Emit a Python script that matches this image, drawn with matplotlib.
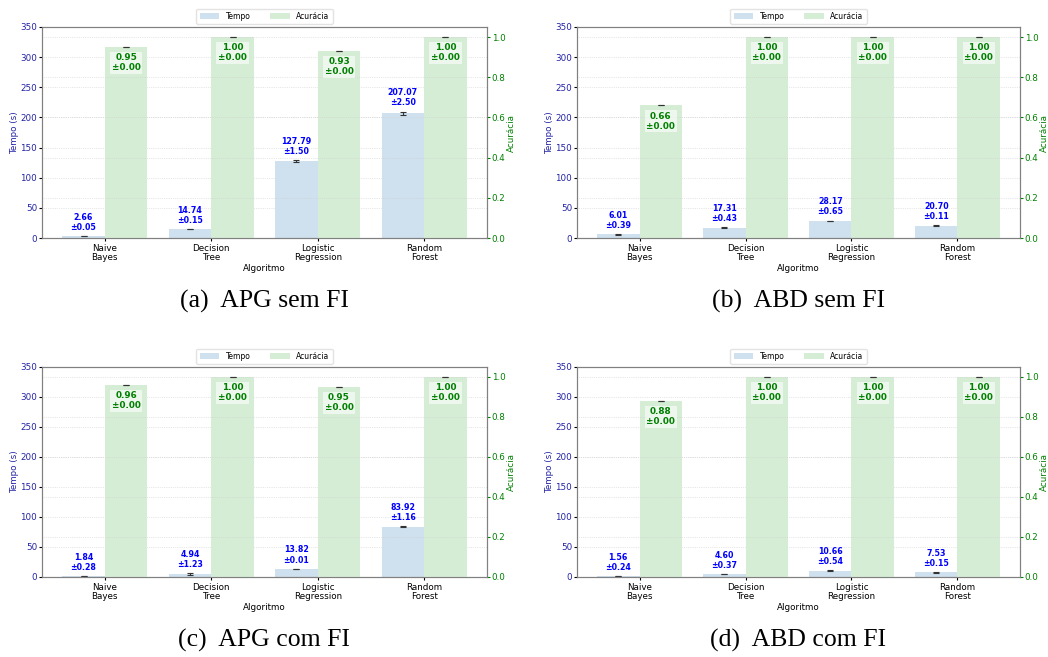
import numpy as np
import matplotlib
matplotlib.use("Agg")
import matplotlib.pyplot as plt

# algorithm names (tick labels)
algoritmos = ["Naive\nBayes", "Decision\nTree", "Logistic\nRegression", "Random\nForest"]

# (a) APG sem FI
tempo_a = [2.66, 14.74, 127.79, 207.07]
tempo_a_err = [0.05, 0.15, 1.50, 2.50]
acc_a = [0.95, 1.00, 0.93, 1.00]
acc_a_err = [0.00, 0.00, 0.00, 0.00]

# (b) ABD sem FI
tempo_b = [6.01, 17.31, 28.17, 20.70]
tempo_b_err = [0.39, 0.43, 0.65, 0.11]
acc_b = [0.66, 1.00, 1.00, 1.00]
acc_b_err = [0.00, 0.00, 0.00, 0.00]

# (c) APG com FI
tempo_c = [1.84, 4.94, 13.82, 83.92]
tempo_c_err = [0.28, 1.23, 0.01, 1.16]
acc_c = [0.96, 1.00, 0.95, 1.00]
acc_c_err = [0.00, 0.00, 0.00, 0.00]

# (d) ABD com FI
tempo_d = [1.56, 4.60, 10.66, 7.53]
tempo_d_err = [0.24, 0.37, 0.54, 0.15]
acc_d = [0.88, 1.00, 1.00, 1.00]
acc_d_err = [0.00, 0.00, 0.00, 0.00]

legendas = ["(a)  APG sem FI", "(b)  ABD sem FI", "(c)  APG com FI", "(d)  ABD com FI"]

paineis = [
    (tempo_a, tempo_a_err, acc_a, acc_a_err),
    (tempo_b, tempo_b_err, acc_b, acc_b_err),
    (tempo_c, tempo_c_err, acc_c, acc_c_err),
    (tempo_d, tempo_d_err, acc_d, acc_d_err),
]

W, H = 1048, 657
fig = plt.figure(figsize=(W / 100, H / 100), dpi=100)

# axes boxes in pixels: left, top, right, bottom
caixas = [(42, 27, 487, 238), (577, 27, 1020, 238),
          (42, 367, 487, 577), (577, 367, 1020, 577)]
caption_y = [301, 640]

cor_tempo = "#cfe0ee"
cor_acc = "#d5ecd5"
azul_tick = "#2323a6"
verde = "green"
w = 0.4
x = np.arange(len(algoritmos))
fs = 6.3

for i, (tempo, tempo_err, acc, acc_err) in enumerate(paineis):
    l, t, r, b = caixas[i]
    ax = fig.add_axes([l / W, (H - b) / H, (r - l) / W, (b - t) / H])
    ax2 = ax.twinx()

    b1 = ax.bar(x - w / 2, tempo, w, yerr=tempo_err, color=cor_tempo, label="Tempo",
                error_kw=dict(ecolor="#333333", capsize=2.5, elinewidth=0.8, capthick=0.8))
    b2 = ax2.bar(x + w / 2, acc, w, yerr=acc_err, color=cor_acc, label="Acurácia",
                 error_kw=dict(ecolor="#333333", capsize=2.5, elinewidth=0.8, capthick=0.8))

    for xi, v, e in zip(x, tempo, tempo_err):
        ax.annotate(f"{v:.2f}\n±{e:.2f}", (xi - w / 2, v + e), xytext=(0, 3),
                    textcoords="offset points", ha="center", va="bottom",
                    color="blue", fontsize=5.7, fontweight="bold", linespacing=1.15)
    for xi, v, e in zip(x, acc, acc_err):
        ax2.annotate(f"{v:.2f}\n±{e:.2f}", (xi + w / 2, v), xytext=(0, -4.5),
                     textcoords="offset points", ha="center", va="top",
                     color=verde, fontsize=6.4, fontweight="bold", linespacing=1.15,
                     bbox=dict(facecolor="white", alpha=0.6, edgecolor="none", pad=1.2))

    ax.set_ylim(0, 350)
    ax.set_yticks(np.arange(0, 351, 50))
    ax2.set_ylim(0, 1.05)
    ax2.set_yticks(np.arange(0, 1.01, 0.2))
    ax.set_xticks(x)
    ax.set_xticklabels(algoritmos, fontsize=fs, linespacing=1.1)
    ax.set_xlabel("Algoritmo", fontsize=fs, labelpad=1)
    ax.set_ylabel("Tempo (s)", fontsize=fs, color=azul_tick, labelpad=1)
    ax2.set_ylabel("Acurácia", fontsize=fs, color=verde, labelpad=1)
    ax.tick_params(axis="y", labelsize=fs, labelcolor=azul_tick, length=2.5, pad=1)
    ax.tick_params(axis="x", labelsize=fs, length=2.5, pad=1.5)
    ax2.tick_params(axis="y", labelsize=fs, labelcolor=verde, color=verde, length=2.5, pad=1)

    ax.set_axisbelow(True)
    ax.yaxis.grid(True, linestyle=":", color="#d0d0d0", linewidth=0.5)
    ax2.yaxis.grid(True, linestyle=":", color="#d0d0d0", linewidth=0.5)
    for a in (ax, ax2):
        for s in a.spines.values():
            s.set_color("#808080")

    ax.legend([b1, b2], ["Tempo", "Acurácia"], loc="lower center",
              bbox_to_anchor=(0.5, 1.015), borderaxespad=0, ncol=2, fontsize=5.5,
              handlelength=2.6, columnspacing=2.6,
              frameon=True, fancybox=True, edgecolor="#dddddd")

    cx = (l + r) / 2 / W
    cy = (H - caption_y[i // 2]) / H
    fig.text(cx, cy, legendas[i], ha="center", va="center", fontsize=18.5,
             family="Liberation Serif")

fig.savefig("out.png", dpi=100)
